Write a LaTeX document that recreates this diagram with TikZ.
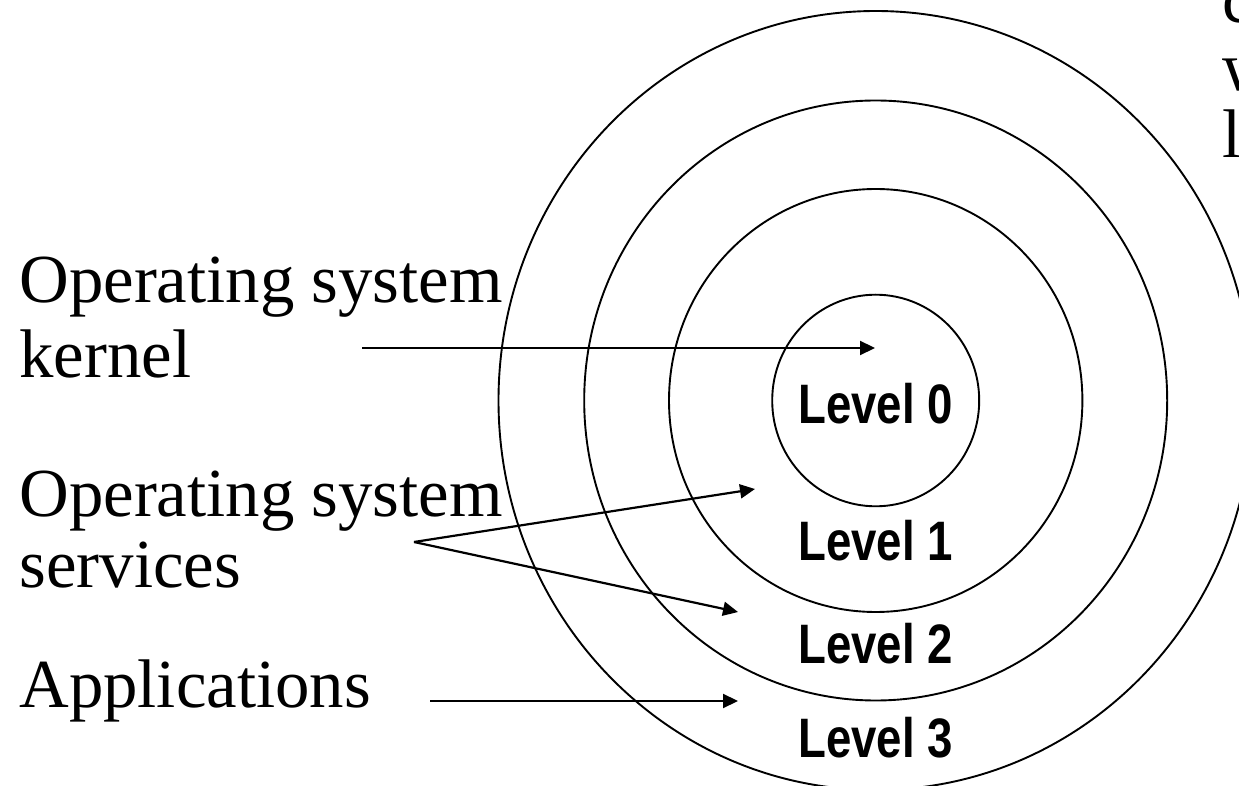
\documentclass[tikz,border=0pt]{standalone}
\usepackage{fontspec}
\setmainfont{Liberation Serif}
\newfontfamily\lvlfont{Liberation Sans}[FakeStretch=0.82]
\usetikzlibrary{arrows.meta}

\begin{document}
\begin{tikzpicture}[x=0.5pt,y=-0.5pt,
  ring/.style={line width=0.95pt},
  pointer/.style={line width=1.1pt,-{Triangle[length=7.5pt,width=7pt]}},
  caption/.style={anchor=base west,inner sep=0pt,font=\fontsize{34.4}{38}\selectfont},
  levellabel/.style={anchor=base,inner sep=0pt,font=\lvlfont\bfseries\fontsize{27.8}{30}\selectfont}]
\useasboundingbox (0,0) rectangle (1239,786);
\clip (0,0) rectangle (1239,786);

% concentric protection rings
\coordinate (c) at (875.7,400.5);
\draw[ring] (c) ellipse [x radius=51.75pt, y radius=52.9pt];
\draw[ring] (c) ellipse [x radius=103.35pt, y radius=105.75pt];
\draw[ring] (c) ellipse [x radius=145.75pt, y radius=150pt];
\draw[ring] (c) ellipse [x radius=188.6pt, y radius=194.75pt];

% ring labels
\node[levellabel] (l0) at (875.5,423.5) {Level 0};
\node[levellabel] (l1) at (875.5,560) {Level 1};
\node[levellabel] (l2) at (875.5,664) {Level 2};
\node[levellabel] (l3) at (875.5,757) {Level 3};

% captions on the left
\node[caption] (os1) at (19,303) {Operating system};
\node[caption] (kern) at (19,378) {kernel};
\node[caption] (os2) at (19,517) {Operating system};
\node[caption] (serv) at (19,588) {services};
\node[caption] (apps) at (19,707) {Applications};

% text running off the right edge
\node[caption] (rc) at (1222,23) {c};
\node[caption] (rw) at (1222,91) {w};
\node[caption] (rl) at (1222,158) {l};

% arrow end points
\coordinate (kfrom) at (362,348);
\coordinate (kto) at (875,348);
\coordinate (sfrom) at (414,542);
\coordinate (sto1) at (755,489);
\coordinate (sto2) at (738,612);
\coordinate (afrom) at (430,701);
\coordinate (ato) at (738,701);

\draw[pointer] (kfrom) -- (kto);
\draw[pointer] (sfrom) -- (sto1);
\draw[pointer] (sfrom) -- (sto2);
\draw[pointer] (afrom) -- (ato);
\end{tikzpicture}
\end{document}
